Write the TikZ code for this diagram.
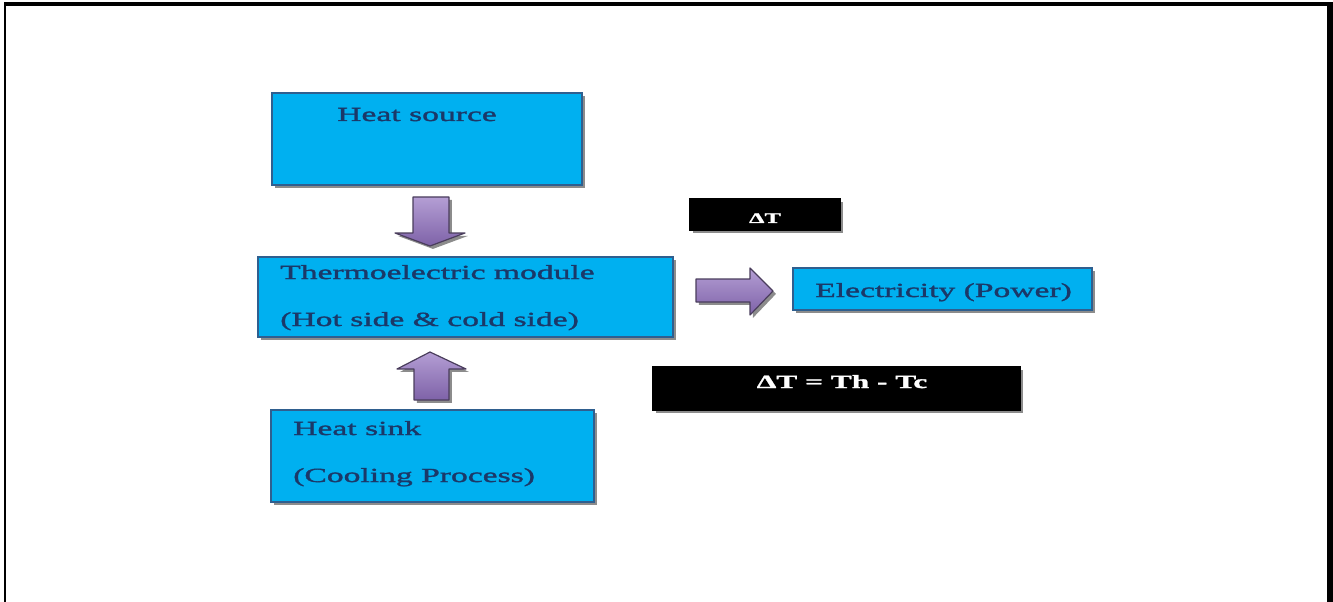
\documentclass[tikz,border=0pt]{standalone}
\usepackage{fontspec}
\setmainfont{Liberation Serif}[FakeStretch=1.68,FakeBold=1.6]
\usetikzlibrary{shadows}
\definecolor{boxfill}{HTML}{00B0F0}
\definecolor{boxline}{HTML}{2F5F8F}
\definecolor{txt}{HTML}{1B3868}
\definecolor{arrtop}{HTML}{B49ED4}
\definecolor{arrbot}{HTML}{7E62A8}
\definecolor{arrline}{HTML}{4A3D5C}
\begin{document}
\begin{tikzpicture}[x=0.75pt,y=-0.75pt,
  shadowed/.style={drop shadow={shadow xshift=2.2pt,shadow yshift=-2.2pt,fill=black!60,opacity=0.75}},
  bluebox/.style={shape=rectangle,draw=boxline,line width=1.4pt,fill=boxfill,inner sep=0pt,outer sep=0pt,anchor=north west,shadowed},
  blackbox/.style={shape=rectangle,draw=black,line width=1pt,fill=black,inner sep=0pt,outer sep=0pt,anchor=north west,shadowed},
  lbl/.style={anchor=base west,inner sep=0pt,text=txt,font=\fontsize{15}{18}\selectfont},
  wlbl/.style={anchor=base,inner sep=0pt,text=white,font=\bfseries\fontsize{11}{13}\selectfont},
  blockarrow/.style={draw=arrline,line width=0.9pt,top color=arrtop,bottom color=arrbot,line join=round,shadowed}]
\useasboundingbox (0,0) rectangle (1333,602);
% frame
\draw[line width=2.4pt] (4,4) -- (1330,4);
\draw[line width=1.6pt] (5,3) -- (5,602);
\draw[line width=4pt] (1330,2.5) -- (1330,602);
% boxes
\node[bluebox,minimum width=232.5pt,minimum height=69pt] (hs) at (272,93) {};
\node[bluebox,minimum width=311.25pt,minimum height=60pt] (tem) at (258,257) {};
\node[bluebox,minimum width=224.25pt,minimum height=31.5pt] (elec) at (793,268) {};
\node[bluebox,minimum width=242.25pt,minimum height=69pt] (sink) at (271,410) {};
\node[blackbox,minimum width=112.5pt,minimum height=23.25pt] (dt1) at (690,199) {};
\node[blackbox,minimum width=275.25pt,minimum height=32.25pt] (dt2) at (653,367) {};
% texts
\node[lbl] (t1) at (337,121) {Heat source};
\node[lbl] (t2) at (280,279) {Thermoelectric module};
\node[lbl] (t3) at (280,326) {(Hot side \& cold side)};
\node[lbl] (t4) at (815,297) {Electricity (Power)};
\node[lbl] (t5) at (293,435) {Heat sink};
\node[lbl] (t6) at (293,482) {(Cooling Process)};
\node[wlbl] (t7) at (765,223) {ΔT};
\node[wlbl,font=\bfseries\fontsize{14}{16}\selectfont] (t8) at (842,388) {ΔT = Th - Tc};
% block arrows
\path[blockarrow] (413,197) -- (449,197) -- (449,233) -- (465,233) -- (430,246) -- (395,233) -- (413,233) -- cycle;
\path[blockarrow] (430,352) -- (466,369) -- (449,369) -- (449,400) -- (414,400) -- (414,369) -- (397,369) -- cycle;
\path[blockarrow] (696,279) -- (750,279) -- (750,268) -- (773,291) -- (750,315) -- (750,302) -- (696,302) -- cycle;
\end{tikzpicture}
\end{document}
